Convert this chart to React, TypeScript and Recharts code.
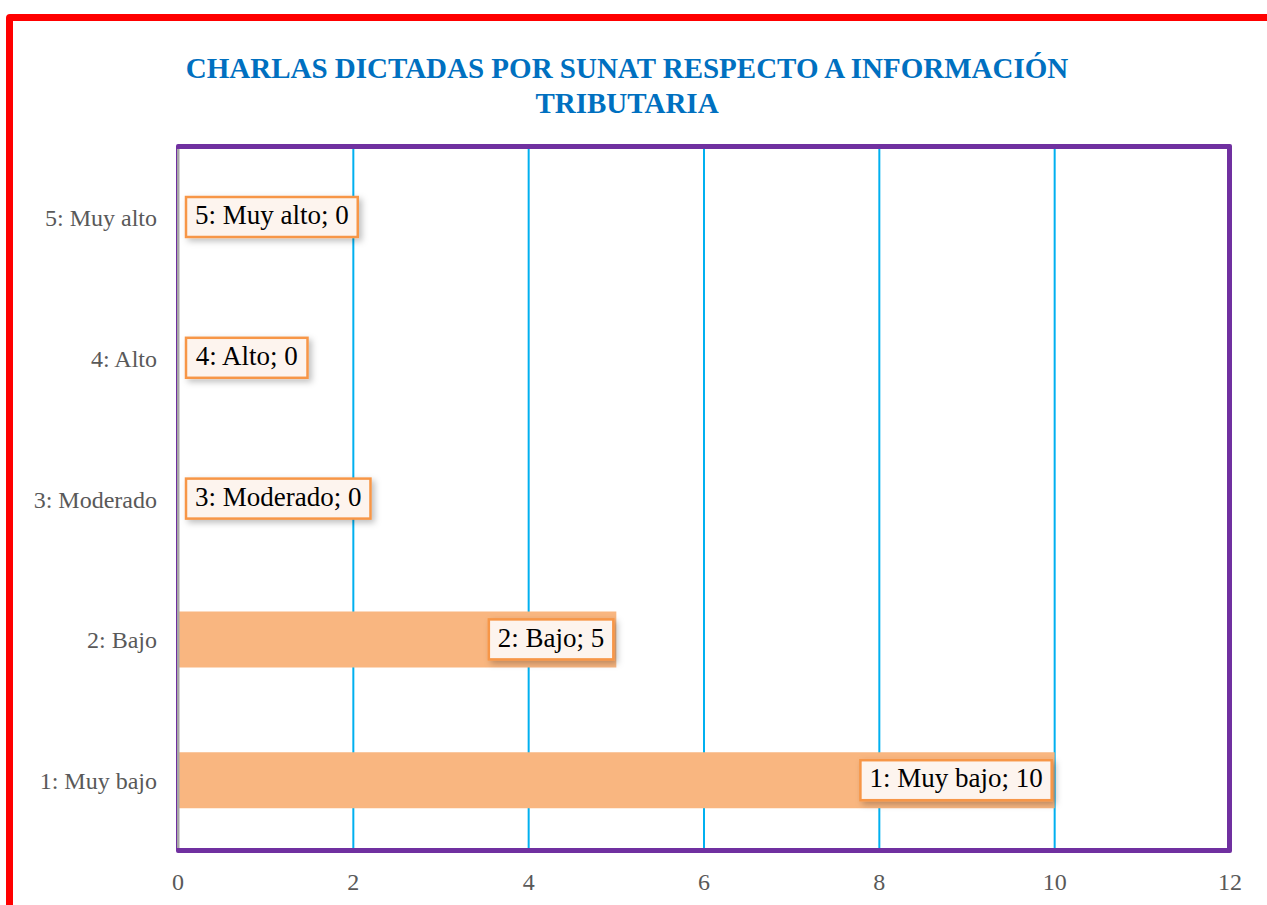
import React from "react";
import {
  Bar,
  BarChart,
  CartesianGrid,
  LabelList,
  XAxis,
  YAxis,
} from "recharts";

const categories = ["1: Muy bajo", "2: Bajo", "3: Moderado", "4: Alto", "5: Muy alto"];
const counts = [10, 5, 0, 0, 0];
const xTicks = [0, 2, 4, 6, 8, 10, 12];
const boundaryTicks = [0, 1, 2, 3, 4, 5];

const title1 = "CHARLAS DICTADAS POR SUNAT RESPECTO A INFORMACIÓN";
const title2 = "TRIBUTARIA";

const data = categories.map((c, i) => ({ name: c, value: counts[i] }));

const FONT = "'Liberation Serif', 'DejaVu Serif', serif";
const LABEL_SIZE = 27;

let ctx: CanvasRenderingContext2D | null = null;
function measure(text: string) {
  if (!ctx) ctx = document.createElement("canvas").getContext("2d");
  if (!ctx) return text.length * 12;
  ctx.font = `${LABEL_SIZE}px ${FONT}`;
  return ctx.measureText(text).width;
}

function BoxLabel(props: any) {
  const { x, y, width, height, value, index } = props;
  const text = `${categories[index]}; ${value}`;
  const w = measure(text) + 18;
  const h = 40;
  const right = value > 0 ? x + width - 3 : x + 8 + w;
  const left = right - w;
  const cy = y + height / 2;
  return (
    <g>
      <rect
        x={left}
        y={cy - h / 2}
        width={w}
        height={h}
        fill="#FDF4EE"
        stroke="#F79646"
        strokeWidth={2.5}
        filter="url(#lblShadow)"
      />
      <text
        x={left + w / 2}
        y={cy + 1}
        textAnchor="middle"
        dominantBaseline="middle"
        fontFamily={FONT}
        fontSize={LABEL_SIZE}
        fill="#000"
      >
        {text}
      </text>
    </g>
  );
}

export default function App() {
  return (
    <div
      style={{
        position: "absolute",
        left: 0,
        top: 0,
        width: 1267,
        height: 905,
        overflow: "hidden",
        background: "#fff",
      }}
    >
      <div
        style={{
          position: "absolute",
          left: 6,
          top: 14,
          width: 1400,
          height: 1100,
          border: "7px solid #FF0000",
          borderTopLeftRadius: 4,
        }}
      />
      <div
        style={{
          position: "absolute",
          left: 0,
          top: 51,
          width: 1254,
          textAlign: "center",
          fontFamily: FONT,
          fontWeight: "bold",
          fontSize: 29,
          lineHeight: "35px",
          color: "#0070C0",
        }}
      >
        {title1}
        <br />
        {title2}
      </div>
      <div style={{ position: "absolute", left: 0, top: 0 }}>
        <BarChart
          width={1267}
          height={905}
          data={data}
          layout="vertical"
          margin={{ top: 147, right: 37, bottom: 14, left: 0 }}
        >
          <defs>
            <filter id="lblShadow" x="-20%" y="-30%" width="150%" height="180%">
              <feDropShadow dx="3" dy="3" stdDeviation="3" floodColor="#000" floodOpacity="0.25" />
            </filter>
          </defs>
          <CartesianGrid horizontal={false} stroke="#00B0F0" strokeWidth={2} />
          <XAxis
            type="number"
            domain={[0, 12]}
            ticks={xTicks}
            interval={0}
            axisLine={false}
            tickLine={false}
            tickMargin={16}
            height={40}
            tick={{ fill: "#595959", fontSize: 24, fontFamily: FONT }}
          />
          <YAxis
            yAxisId={0}
            type="number"
            domain={[0, 5]}
            ticks={boundaryTicks}
            tick={false}
            width={8}
            tickSize={6}
            axisLine={{ stroke: "#A6A6A6", strokeWidth: 3 }}
            tickLine={{ stroke: "#A6A6A6", strokeWidth: 2 }}
          />
          <YAxis
            yAxisId="cat"
            type="category"
            dataKey="name"
            reversed
            width={170}
            axisLine={false}
            tickLine={false}
            tickMargin={7}
            tick={{ fill: "#595959", fontSize: 24, fontFamily: FONT }}
          />
          <Bar
            yAxisId="cat"
            dataKey="value"
            fill="#F9B680"
            barSize={56}
            minPointSize={1}
            isAnimationActive={false}
          >
            <LabelList dataKey="value" content={<BoxLabel />} />
          </Bar>
        </BarChart>
      </div>
      <div
        style={{
          position: "absolute",
          left: 176,
          top: 144,
          width: 1056,
          height: 709,
          boxSizing: "border-box",
          border: "5px solid #7030A0",
          borderLeftWidth: 1,
          borderRadius: 2,
          pointerEvents: "none",
        }}
      />
    </div>
  );
}
